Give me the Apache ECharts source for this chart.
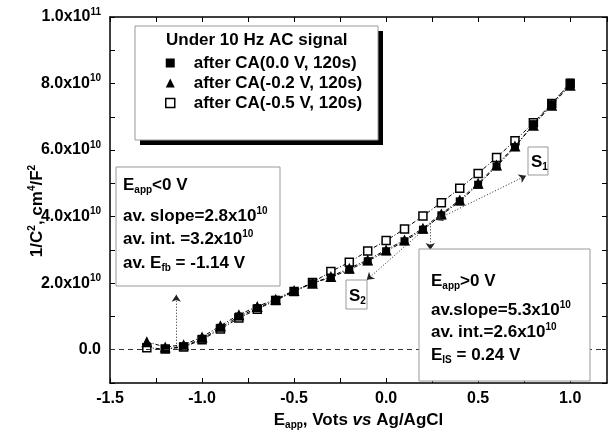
<!DOCTYPE html>
<html><head><meta charset="utf-8">
<script src="https://cdn.jsdelivr.net/npm/echarts@6/dist/echarts.min.js"></script>
<style>html,body{margin:0;padding:0;background:#fff}#c{width:610px;height:441px}</style>
</head><body><div id="c"></div>
<script>
// ---- data (y values in units of 1e10 cm^4/F^2) ----
const xValues = [-1.3,-1.2,-1.1,-1.0,-0.9,-0.8,-0.7,-0.6,-0.5,-0.4,-0.3,-0.2,-0.1,0.0,0.1,0.2,0.3,0.4,0.5,0.6,0.7,0.8,0.9,1.0];
const ca00 = [null,0.02,0.10,0.33,0.66,1.00,1.25,1.50,1.75,2.00,2.17,2.41,2.66,2.96,3.26,3.61,4.04,4.46,4.96,5.51,6.09,6.78,7.38,8.03];
const ca02 = [0.24,0.08,0.15,0.38,0.72,1.05,1.30,1.52,1.78,2.00,2.20,2.45,2.70,3.00,3.30,3.65,4.08,4.50,5.00,5.55,6.12,6.75,7.35,7.95];
const ca05 = [0.06,0.02,0.08,0.30,0.62,0.95,1.22,1.48,1.75,2.02,2.35,2.63,2.97,3.28,3.63,4.02,4.42,4.85,5.30,5.78,6.28,6.82,7.40,8.00];
const seriesNames = ['after CA(0.0 V, 120s)','after CA(-0.2 V, 120s)','after CA(-0.5 V, 120s)'];
const legendTitle = 'Under 10 Hz AC signal';
// annotation arrows (data coords)
const arrowEfb = [[-1.14, 0], [-1.14, 1.65]];
const arrowEis = [[0.24, 3.8], [0.24, 3.0]];
const lineS2 = [[0.245, 3.8], [-0.105, 2.1]];
const lineS1 = [[0.27, 3.9], [0.76, 5.23]];

const FF = '"Liberation Sans", Arial, sans-serif';
const base = {fontFamily: FF, fontWeight: 'bold', color: '#000'};
const rich = {
  m: Object.assign({fontSize: 17, lineHeight: 20}, base),
  t: Object.assign({fontSize: 16, lineHeight: 20}, base),
  s: Object.assign({fontSize: 10, lineHeight: 10, verticalAlign: 'top'}, base),
  b: Object.assign({fontSize: 10, lineHeight: 10, verticalAlign: 'bottom'}, base),
  i: Object.assign({fontSize: 17, lineHeight: 20, fontStyle: 'italic'}, base)
};

function pairs(ys){ return xValues.map((x,i)=>[x, ys[i]]); }
function arrow(a, both){
  return [{coord: a[0], symbol: both ? 'arrow' : 'none'}, {coord: a[1], symbol: 'arrow'}];
}

const axisCommon = {
  type: 'value',
  axisLine: {show: true, onZero: false, lineStyle: {color: '#000', width: 1.5}},
  axisTick: {show: true, inside: true, length: 5, lineStyle: {color: '#000', width: 1}},
  splitLine: {show: false}
};

function yLabel(v){
  const n = Math.round(v);
  if (n < 0 || n % 2 !== 0) return '';
  if (n === 0) return '{t|0.0}';
  if (n === 10) return '{t|1.0x10}{s|11}';
  return '{t|' + n.toFixed(1) + 'x10}{s|10}';
}
function xLabel(v){
  const n = Math.round(v*100);
  if (n % 50 !== 0) return '';
  return (v).toFixed(1);
}

const chart = echarts.init(document.getElementById('c'), null, {renderer: 'canvas'});
chart.setOption({
  animation: false,
  backgroundColor: '#fff',
  grid: {left: 110, right: 3, top: 17, bottom: 58},
  xAxis: [
    Object.assign({}, axisCommon, {position: 'bottom', min: -1.5, max: 1.2, interval: 0.25,
      axisLabel: {formatter: xLabel, margin: 8, fontSize: 16, fontWeight: 'bold', fontFamily: FF, color: '#000', showMaxLabel: false},
      name: '{m|E}{b|app}{m|, Vots }{i|vs}{m| Ag/AgCl}', nameLocation: 'middle', nameGap: 27,
      nameTextStyle: {rich: rich}}),
    Object.assign({}, axisCommon, {position: 'top', min: -1.5, max: 1.2, interval: 0.25, axisLabel: {show: false}})
  ],
  yAxis: [
    Object.assign({}, axisCommon, {position: 'left', min: -1, max: 10, interval: 1,
      axisLabel: {formatter: yLabel, margin: 9, rich: rich}}),
    Object.assign({}, axisCommon, {position: 'right', min: -1, max: 10, interval: 1, axisLabel: {show: false}})
  ],
  legend: {
    data: [
      {name: seriesNames[0], icon: 'rect'},
      {name: seriesNames[1], icon: 'triangle'},
      {name: seriesNames[2], icon: 'rect', itemStyle: {color: '#fff', borderColor: '#000', borderWidth: 1.5}}
    ],
    orient: 'vertical', left: 165, top: 53, padding: 0, itemGap: 0, itemWidth: 9, itemHeight: 9,
    selectedMode: false, z: 20,
    textStyle: {fontSize: 17, fontWeight: 'bold', fontFamily: FF, color: '#000', lineHeight: 20, padding: [0,0,0,14]}
  },
  series: [
    {name: seriesNames[2], type: 'line', data: pairs(ca05), symbol: 'rect', symbolSize: 8,
      itemStyle: {color: '#fff', borderColor: '#000', borderWidth: 1.5},
      lineStyle: {color: '#000', width: 1, type: [4,2,1,2]}, z: 2,
      markLine: {silent: true, symbol: 'none', label: {show: false}, animation: false,
        lineStyle: {color: '#333', width: 1, type: [5,4]}, data: [{yAxis: 0}]}},
    {name: seriesNames[1], type: 'line', data: pairs(ca02), symbol: 'triangle', symbolSize: 11,
      itemStyle: {color: '#000'}, lineStyle: {color: '#000', width: 1, type: [4,2,1,2]}, z: 3},
    {name: seriesNames[0], type: 'line', data: pairs(ca00), symbol: 'rect', symbolSize: 8,
      itemStyle: {color: '#000'}, lineStyle: {color: '#000', width: 1, type: [4,2,1,2]}, z: 4},
    {name: 'annot', type: 'line', data: [], z: 10,
      markLine: {silent: true, symbolSize: 7, label: {show: false}, animation: false,
        lineStyle: {color: '#222', width: 1, type: [1,2]},
        data: [arrow(arrowEfb), arrow(arrowEis), arrow(lineS2), arrow(lineS1, true)]}}
  ],
  graphic: [
    // legend box with shadow
    {type: 'rect', z: 5, shape: {x: 140, y: 31, width: 243, height: 114}, style: {fill: '#000'}},
    {type: 'rect', z: 6, shape: {x: 135, y: 26, width: 243, height: 114}, style: {fill: '#fff', stroke: '#999', lineWidth: 1}},
    {type: 'text', z: 21, x: 166, y: 40, style: Object.assign({text: legendTitle, fontSize: 17, verticalAlign: 'middle'}, {fontFamily: FF, fontWeight: 'bold', fill: '#000'})},
    // left box
    {type: 'rect', z: 6, shape: {x: 116, y: 167, width: 164, height: 119}, style: {fill: '#fff', stroke: '#999', lineWidth: 1}},
    {type: 'text', z: 7, x: 123, y: 185, style: {text: '{m|E}{b|app}{m|<0 V}', rich: rich, verticalAlign: 'middle'}},
    {type: 'text', z: 7, x: 123, y: 216, style: {text: '{m|av. slope=2.8x10}{s|10}', rich: rich, verticalAlign: 'middle'}},
    {type: 'text', z: 7, x: 123, y: 239, style: {text: '{m|av. int. =3.2x10}{s|10}', rich: rich, verticalAlign: 'middle'}},
    {type: 'text', z: 7, x: 123, y: 263, style: {text: '{m|av. E}{b|fb}{m| = -1.14 V}', rich: rich, verticalAlign: 'middle'}},
    // right box
    {type: 'rect', z: 6, shape: {x: 419, y: 249, width: 171, height: 132}, style: {fill: '#fff', stroke: '#999', lineWidth: 1}},
    {type: 'text', z: 7, x: 431, y: 281, style: {text: '{m|E}{b|app}{m|>0 V}', rich: rich, verticalAlign: 'middle'}},
    {type: 'text', z: 7, x: 431, y: 310, style: {text: '{m|av.slope=5.3x10}{s|10}', rich: rich, verticalAlign: 'middle'}},
    {type: 'text', z: 7, x: 431, y: 332, style: {text: '{m|av. int.=2.6x10}{s|10}', rich: rich, verticalAlign: 'middle'}},
    {type: 'text', z: 7, x: 431, y: 355, style: {text: '{m|E}{b|IS}{m| = 0.24 V}', rich: rich, verticalAlign: 'middle'}},
    // S1 / S2 boxes
    {type: 'rect', z: 6, shape: {x: 528, y: 147, width: 20, height: 28}, style: {fill: '#fff', stroke: '#999', lineWidth: 1}},
    {type: 'text', z: 7, x: 531, y: 162, style: {text: '{m|S}{b|1}', rich: rich, verticalAlign: 'middle'}},
    {type: 'rect', z: 6, shape: {x: 346, y: 280, width: 21, height: 29}, style: {fill: '#fff', stroke: '#999', lineWidth: 1}},
    {type: 'text', z: 7, x: 349, y: 296, style: {text: '{m|S}{b|2}', rich: rich, verticalAlign: 'middle'}},
    // y axis title
    {type: 'text', z: 7, x: 37, y: 211, rotation: Math.PI/2,
      style: {text: '{m|1/C}{s|2}{m|, cm}{s|4}{m|/F}{s|2}', rich: rich, align: 'center', verticalAlign: 'middle'}}
  ]
});
</script></body></html>
